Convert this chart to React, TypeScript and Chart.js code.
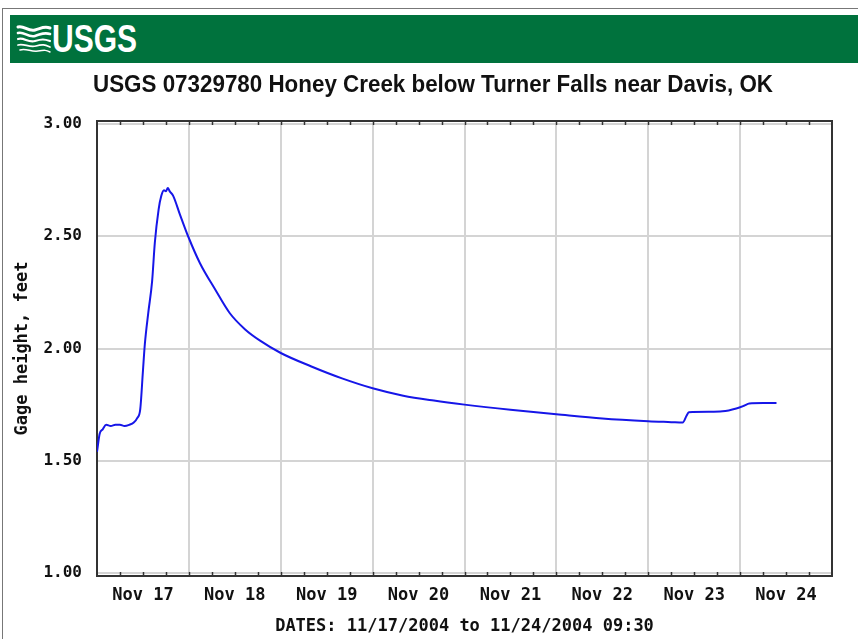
import React, { useEffect, useRef } from 'react';
import { Chart, registerables } from 'chart.js';

Chart.register(...registerables);

// Hours since 11/17/2004 00:00
const hours = [
  0, 0.7, 1.5, 2.4, 3.6, 4.8, 6, 7.2, 8.4, 9.6, 10.5, 11.3, 12, 12.5, 13.4, 14.4, 15.1,
  16.1, 16.8, 17.5, 18.0, 18.5, 19.0, 19.9, 21.6, 23.8, 26.9, 30.8, 34.7, 38.7, 42.6, 48,
  56, 64, 72, 80, 88, 96, 108, 120, 132, 144, 150, 153, 154, 154.6, 160, 163.4,
  167, 169, 170.4, 174, 177.5,
];
// Gage height, feet
const gageHeight = [
  1.54, 1.62, 1.64, 1.66, 1.655, 1.66, 1.66, 1.655, 1.66, 1.67, 1.69, 1.73, 1.9, 2.02,
  2.16, 2.3, 2.47, 2.62, 2.68, 2.705, 2.7, 2.715, 2.7, 2.68, 2.6, 2.5, 2.38, 2.265, 2.157,
  2.085, 2.035, 1.98, 1.92, 1.867, 1.823, 1.79, 1.768, 1.75, 1.727, 1.707, 1.688, 1.676,
  1.672, 1.67, 1.7, 1.716, 1.718, 1.72, 1.733, 1.745, 1.755, 1.757, 1.757,
];

const xTickHours = [12, 36, 60, 84, 108, 132, 156, 180];
const xTickLabels = ['Nov 17', 'Nov 18', 'Nov 19', 'Nov 20', 'Nov 21', 'Nov 22', 'Nov 23', 'Nov 24'];
const xGridHours = [0, 24, 48, 72, 96, 120, 144, 168, 192];
const yTicks = [1.0, 1.5, 2.0, 2.5, 3.0];

const titleText = 'USGS 07329780 Honey Creek below Turner Falls near Davis, OK';
const yAxisTitle = 'Gage height, feet';
const xAxisTitle = 'DATES: 11/17/2004 to 11/24/2004 09:30';
const logoText = 'USGS';

const MONO = "'DejaVu Sans Mono', monospace";

function measure(text: string, font: string): number {
  const c = document.createElement('canvas').getContext('2d');
  if (!c) return 1;
  c.font = font;
  return c.measureText(text).width || 1;
}

const framePlugin = {
  id: 'frame',
  beforeDatasetsDraw(chart: any) {
    const { ctx, chartArea } = chart;
    const { left, right, top, bottom } = chartArea;
    const xs = chart.scales.x;
    ctx.save();
    ctx.strokeStyle = '#333';
    ctx.lineWidth = 2;
    ctx.strokeRect(left, top - 3, right - left, bottom - top + 6);
    ctx.lineWidth = 1.5;
    for (let h = 6; h < 192; h += 6) {
      const px = Math.round(xs.getPixelForValue(h)) + 0.5;
      ctx.beginPath();
      ctx.moveTo(px, bottom + 3);
      ctx.lineTo(px, bottom - 1);
      ctx.moveTo(px, top - 3);
      ctx.lineTo(px, top + 1);
      ctx.stroke();
    }
    ctx.restore();
  },
};

function ChartCanvas() {
  const ref = useRef<HTMLCanvasElement | null>(null);
  useEffect(() => {
    if (!ref.current) return;
    const chart = new Chart(ref.current, {
      type: 'line',
      data: {
        datasets: [
          {
            data: hours.map((h, i) => ({ x: h, y: gageHeight[i] })),
            borderColor: '#1616e8',
            borderWidth: 2,
            pointRadius: 0,
            tension: 0.3,
            cubicInterpolationMode: 'monotone',
            fill: false,
          },
        ],
      },
      options: {
        animation: false,
        responsive: true,
        maintainAspectRatio: false,
        layout: { padding: { top: 124, right: 26, bottom: 0, left: 0 } },
        plugins: { legend: { display: false }, tooltip: { enabled: false }, title: { display: false } },
        scales: {
          x: {
            type: 'linear',
            min: 0,
            max: 192,
            afterFit: (s: any) => {
              s.height = 66;
            },
            afterBuildTicks: (s: any) => {
              const vals = [...xGridHours, ...xTickHours].sort((a, b) => a - b);
              s.ticks = vals.map((v) => ({ value: v }));
            },
            grid: {
              drawTicks: false,
              color: (c: any) => {
                const v = c.tick && c.tick.value;
                return v % 24 === 0 && v !== 0 && v !== 192 ? '#d4d4d4' : 'rgba(0,0,0,0)';
              },
              lineWidth: 2,
            },
            border: { display: false },
            ticks: {
              autoSkip: false,
              maxRotation: 0,
              padding: 12,
              color: '#111',
              font: { family: MONO, size: 17, weight: 'bold' },
              callback: (v: any) => {
                const i = xTickHours.indexOf(Number(v));
                return i >= 0 ? xTickLabels[i] : '';
              },
            },
            title: {
              display: true,
              text: xAxisTitle,
              color: '#111',
              font: { family: MONO, size: 17, weight: 'bold' },
              padding: { top: 0, bottom: 2 },
            },
          },
          y: {
            type: 'linear',
            min: 1,
            max: 3,
            afterFit: (s: any) => {
              s.width = 97;
            },
            afterBuildTicks: (s: any) => {
              s.ticks = yTicks.map((v) => ({ value: v }));
            },
            grid: { drawTicks: false, color: '#d4d4d4', lineWidth: 2 },
            border: { display: false },
            ticks: {
              padding: 15,
              color: '#111',
              font: { family: MONO, size: 16, weight: 'bold' },
              callback: (v: any) => Number(v).toFixed(2),
            },
            title: {
              display: true,
              text: yAxisTitle,
              color: '#111',
              font: { family: MONO, size: 17, weight: 'bold' },
              padding: { top: 12, bottom: 0 },
            },
          },
        },
      },
      plugins: [framePlugin],
    } as any);
    return () => chart.destroy();
  }, []);
  return <canvas ref={ref} />;
}

export default function App() {
  const titleFont = "bold 24px 'Liberation Sans', Arial, sans-serif";
  const titleScale = 680 / measure(titleText, titleFont);
  const logoFont = "bold 38px 'Liberation Sans', Arial, sans-serif";
  const logoScale = 85 / measure(logoText, logoFont);
  return (
    <div style={{ position: 'absolute', left: 0, top: 0, width: 858, height: 639, background: '#fff', overflow: 'hidden' }}>
      <div style={{ position: 'absolute', left: 0, top: 0, width: 858, height: 639 }}>
        <ChartCanvas />
      </div>
      <div style={{ position: 'absolute', left: 2, top: 8, width: 856, height: 1, background: '#777' }} />
      <div style={{ position: 'absolute', left: 2, top: 8, width: 1, height: 631, background: '#777' }} />
      <div style={{ position: 'absolute', left: 10, top: 15, width: 848, height: 48, background: '#00723d' }} />
      <svg style={{ position: 'absolute', left: 16, top: 24 }} width={36} height={30} viewBox="0 0 36 30">
        <g fill="none" stroke="#fff" strokeLinecap="round">
          <path d="M2,3 C8,1 12,8 19,6 S28,2 34,4" strokeWidth={3} />
          <path d="M2,9 C8,7 12,14 19,12 S28,8 34,10" strokeWidth={2.6} />
          <path d="M2,15 C8,13 12,19 19,17 S28,15 34,17" strokeWidth={2.2} />
          <path d="M2,21 C8,19 13,24 20,22 S29,21 34,23" strokeWidth={1.8} />
          <path d="M4,26 C10,24 15,28 22,27 S30,26 34,28" strokeWidth={1.5} />
        </g>
      </svg>
      <div
        style={{
          position: 'absolute',
          left: 52,
          top: 20,
          font: logoFont,
          lineHeight: '38px',
          color: '#fff',
          whiteSpace: 'nowrap',
          transform: `scaleX(${logoScale})`,
          transformOrigin: 'left top',
        }}
      >
        {logoText}
      </div>
      <div
        style={{
          position: 'absolute',
          left: 93,
          top: 72,
          font: titleFont,
          lineHeight: '24px',
          color: '#111',
          whiteSpace: 'nowrap',
          transform: `scaleX(${titleScale})`,
          transformOrigin: 'left top',
        }}
      >
        {titleText}
      </div>
    </div>
  );
}
